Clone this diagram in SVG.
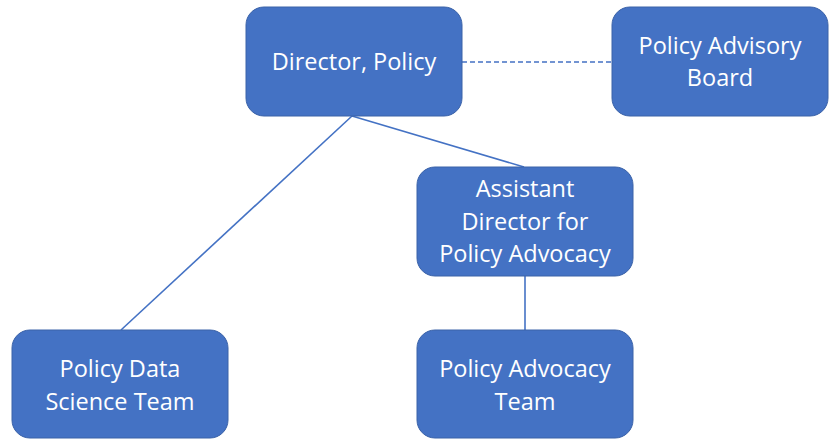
<svg xmlns="http://www.w3.org/2000/svg" width="838" height="447" viewBox="0 0 838 447">
<style>
.box{fill:#4472C4;stroke:#3A62A8;stroke-width:1}
.t{font-family:"Open Sans","Liberation Sans",sans-serif;font-size:23.5px;fill:#fff;text-anchor:middle}
.c{stroke:#4472C4;stroke-width:1.6;fill:none}
</style>
<rect width="838" height="447" fill="#fff"/>
<g id="connectors">
<line class="c" x1="462" y1="62" x2="612" y2="62" stroke-dasharray="5,3"/>
<line class="c" x1="352" y1="116" x2="121" y2="330"/>
<line class="c" x1="352" y1="116" x2="524" y2="167"/>
<line class="c" x1="525" y1="276" x2="525" y2="330"/>
</g>
<g id="director">
<rect class="box" x="246" y="7" width="216" height="109" rx="18"/>
<text class="t" x="354" y="70">Director, Policy</text>
</g>
<g id="advisory">
<rect class="box" x="612" y="7" width="216" height="109" rx="18"/>
<text class="t" x="720" y="54">Policy Advisory</text>
<text class="t" x="720" y="86">Board</text>
</g>
<g id="assistant">
<rect class="box" x="417" y="167" width="216" height="109" rx="18"/>
<text class="t" x="525" y="197">Assistant</text>
<text class="t" x="525" y="230">Director for</text>
<text class="t" x="525" y="262">Policy Advocacy</text>
</g>
<g id="datascience">
<rect class="box" x="12" y="330" width="216" height="108" rx="18"/>
<text class="t" x="120" y="377">Policy Data</text>
<text class="t" x="120" y="410">Science Team</text>
</g>
<g id="advocacyteam">
<rect class="box" x="417" y="330" width="216" height="108" rx="18"/>
<text class="t" x="525" y="377">Policy Advocacy</text>
<text class="t" x="525" y="410">Team</text>
</g>
</svg>
